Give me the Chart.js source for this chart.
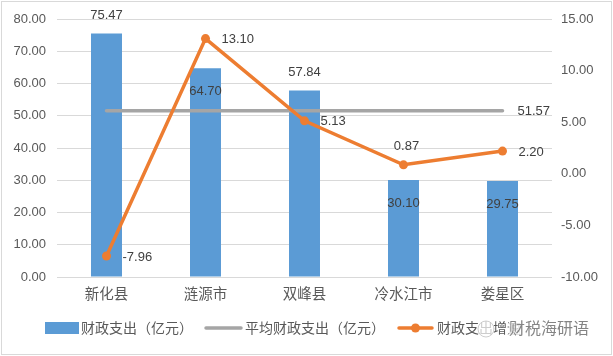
<!DOCTYPE html>
<html><head><meta charset="utf-8">
<script src="https://cdn.jsdelivr.net/npm/chart.js@4"></script>
<style>html,body{margin:0;padding:0;background:#fff;}canvas{display:block;}</style>
</head><body>
<canvas id="c" width="613" height="356"></canvas>
<script>
const categories = ['新化县', '涟源市', '双峰县', '冷水江市', '娄星区'];
const expenditure = [75.47, 64.70, 57.84, 30.10, 29.75];
const avgExpenditure = [51.57, 51.57, 51.57, 51.57, 51.57];
const growth = [-7.96, 13.10, 5.13, 0.87, 2.20];
const leftTicks = [0, 10, 20, 30, 40, 50, 60, 70, 80];
const rightTicks = [-10, -5, 0, 5, 10, 15];
const seriesNames = ['财政支出（亿元）', '平均财政支出（亿元）', '财政支出增速'];
const watermark = '财税海研语';

// label placement settings (not data)
const barLabelPlace = ['above', 'inside', 'above', 'inside', 'inside'];
const growthLabelPlace = ['right', 'right', 'right', 'above', 'right'];

const BLUE = '#5B9BD5', GRAY = '#A5A5A5', ORANGE = '#ED7D31';
const NUMFONT = '13px "Liberation Sans", Arial, sans-serif';
const CJK = '"Noto Sans CJK SC", sans-serif';

const labelPlugin = {
  id: 'labels',
  beforeDraw(chart) {
    const ctx = chart.ctx;
    ctx.save();
    ctx.fillStyle = '#fff';
    ctx.fillRect(0, 0, chart.width, chart.height);
    ctx.strokeStyle = '#D9D9D9';
    ctx.lineWidth = 1;
    ctx.strokeRect(1.5, 1.5, chart.width - 3, chart.height - 3);
    ctx.restore();
  },
  afterDatasetsDraw(chart) {
    const ctx = chart.ctx;
    ctx.save();
    ctx.font = NUMFONT;
    ctx.fillStyle = '#404040';
    ctx.textBaseline = 'middle';
    // bar labels
    chart.getDatasetMeta(0).data.forEach((el, i) => {
      ctx.textAlign = 'center';
      const y = barLabelPlace[i] === 'above' ? el.y - 18 : el.y + 23;
      ctx.fillText(expenditure[i].toFixed(2), el.x, y);
    });
    // average label
    const am = chart.getDatasetMeta(1).data;
    const last = am[am.length - 1];
    ctx.textAlign = 'left';
    ctx.fillText(avgExpenditure[avgExpenditure.length - 1].toFixed(2), last.x + 15, last.y + 1);
    // growth labels
    chart.getDatasetMeta(2).data.forEach((el, i) => {
      if (growthLabelPlace[i] === 'above') {
        ctx.textAlign = 'center';
        ctx.fillText(growth[i].toFixed(2), el.x + 3, el.y - 18);
      } else {
        ctx.textAlign = 'left';
        ctx.fillText(growth[i].toFixed(2), el.x + 16, el.y + 1);
      }
    });
    ctx.restore();
  },
  afterDraw(chart) {
    const ctx = chart.ctx;
    ctx.save();
    const ly = 328;
    ctx.font = '14px ' + CJK;
    ctx.textBaseline = 'middle';
    ctx.textAlign = 'left';
    ctx.fillStyle = '#595959';
    // item 1: bar
    ctx.fillStyle = BLUE;
    ctx.fillRect(45, ly - 6, 34, 12);
    ctx.fillStyle = '#595959';
    ctx.fillText(seriesNames[0], 81, ly);
    // item 2: gray line
    ctx.strokeStyle = GRAY; ctx.lineWidth = 3.5; ctx.lineCap = 'round';
    ctx.beginPath(); ctx.moveTo(206, ly); ctx.lineTo(241, ly); ctx.stroke();
    ctx.fillText(seriesNames[1], 245, ly);
    // item 3: orange line with marker
    ctx.strokeStyle = ORANGE; ctx.lineWidth = 3.5;
    ctx.beginPath(); ctx.moveTo(399, ly); ctx.lineTo(432, ly); ctx.stroke();
    ctx.fillStyle = ORANGE;
    ctx.beginPath(); ctx.arc(415.5, ly, 4.5, 0, Math.PI * 2); ctx.fill();
    ctx.fillStyle = '#595959';
    ctx.fillText(seriesNames[2], 437, ly);
    // watermark
    ctx.strokeStyle = 'rgba(200,200,200,0.9)'; ctx.lineWidth = 1;
    ctx.fillStyle = 'rgba(255,255,255,0.7)';
    ctx.beginPath(); ctx.arc(486, ly + 1, 8, 0, Math.PI * 2); ctx.fill(); ctx.stroke();
    ctx.font = '16px ' + CJK;
    ctx.lineWidth = 3; ctx.strokeStyle = 'rgba(255,255,255,0.8)';
    ctx.strokeText(watermark, 509, ly);
    ctx.fillStyle = 'rgba(110,110,110,0.85)';
    ctx.fillText(watermark, 509, ly);
    ctx.restore();
  }
};

new Chart(document.getElementById('c'), {
  data: {
    labels: categories,
    datasets: [
      { type: 'bar', label: seriesNames[0], data: expenditure, yAxisID: 'y',
        backgroundColor: BLUE, categoryPercentage: 1, barPercentage: 0.313, order: 3 },
      { type: 'line', label: seriesNames[1], data: avgExpenditure, yAxisID: 'y',
        borderColor: GRAY, borderWidth: 3.5, pointRadius: 0, borderCapStyle: 'round', order: 2 },
      { type: 'line', label: seriesNames[2], data: growth, yAxisID: 'y1',
        borderColor: ORANGE, backgroundColor: ORANGE, borderWidth: 3.5,
        pointRadius: 4.5, pointBackgroundColor: ORANGE, pointBorderWidth: 0, order: 1 }
    ]
  },
  options: {
    responsive: false, animation: false,
    layout: { padding: { top: 19, left: 0, right: 0, bottom: 0 } },
    plugins: { legend: { display: false }, tooltip: { enabled: false } },
    scales: {
      x: {
        grid: { display: false, drawTicks: false }, border: { display: false },
        ticks: { color: '#595959', font: { family: CJK, size: 14.5 }, padding: 8 },
        afterFit(s) { s.height = 79; }
      },
      y: {
        position: 'left', min: leftTicks[0], max: leftTicks[leftTicks.length - 1],
        afterBuildTicks(s) { s.ticks = leftTicks.map(v => ({ value: v })); },
        grid: { color: '#D9D9D9', lineWidth: 1, drawTicks: false }, border: { display: false },
        ticks: { color: '#595959', font: { family: '"Liberation Sans", Arial, sans-serif', size: 13 }, padding: 11,
          callback: v => Number(v).toFixed(2) },
        afterFit(s) { s.width = 57; }
      },
      y1: {
        position: 'right', min: rightTicks[0], max: rightTicks[rightTicks.length - 1],
        afterBuildTicks(s) { s.ticks = rightTicks.map(v => ({ value: v })); },
        grid: { display: false, drawTicks: false }, border: { display: false },
        ticks: { color: '#595959', font: { family: '"Liberation Sans", Arial, sans-serif', size: 13 }, padding: 9,
          callback: v => Number(v).toFixed(2) },
        afterFit(s) { s.width = 61; }
      }
    }
  },
  plugins: [labelPlugin]
});
</script>
</body></html>
